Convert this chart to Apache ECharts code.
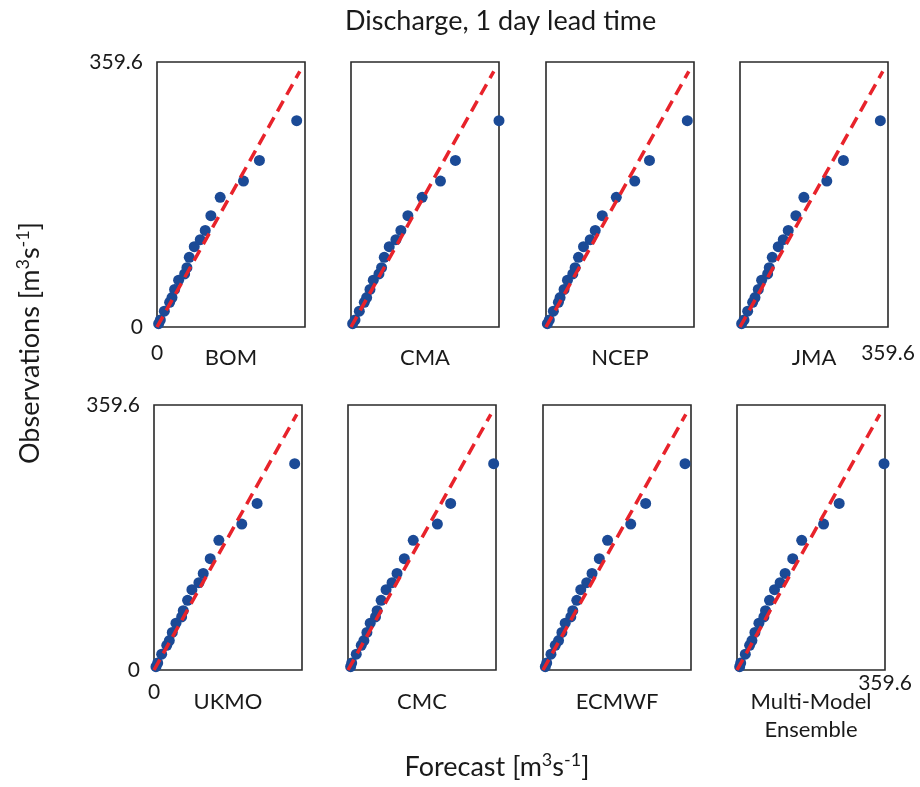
<!DOCTYPE html>
<html>
<head>
<meta charset="utf-8">
<script src="https://cdn.jsdelivr.net/npm/echarts@6/dist/echarts.min.js"></script>
<style>html,body{margin:0;padding:0;background:#fff}#chart{width:920px;height:787px}</style>
</head>
<body>
<div id="chart"></div>
<script>
// ---------- data ----------
const models = ['BOM', 'CMA', 'NCEP', 'JMA', 'UKMO', 'CMC', 'ECMWF', 'Multi-Model\nEnsemble'];
const axisMin = 0;
const axisMax = 359.6;
const tickLabels = ['0', '359.6'];
const oneToOneEnd = 347;
// observed quantiles (same for every panel)
const obs = [4.5, 9.5, 21.5, 33.5, 40, 51, 63.5, 72, 80.5, 94.5, 109, 118.5, 131, 151, 176, 198, 226, 280];
// forecast quantiles per model
const fcBOM   = [4.0, 8.1, 17.8, 30.7, 36.4, 42.8, 52.5, 67.1, 72.7, 78.4, 90.5, 105.1, 117.2, 130.9, 153.5, 210.1, 248.9, 339.4];
const fcCMA   = [4.0, 9.7, 20.2, 32.3, 38.0, 46.1, 54.1, 67.9, 74.3, 80.8, 92.9, 109.1, 121.2, 138.2, 172.9, 217.4, 253.7, 359.6];
const fcNCEP  = [3.3, 8.1, 17.9, 30.1, 34.2, 43.9, 52.1, 65.1, 70.8, 78.9, 91.1, 107.4, 119.6, 136.7, 170.8, 215.6, 251.4, 343.3];
const fcJMA   = [4.0, 9.7, 18.6, 30.7, 36.4, 44.4, 52.5, 67.1, 71.1, 78.4, 92.9, 105.1, 117.2, 135.8, 155.2, 210.9, 251.3, 341.0];
const fcUKMO  = [4.8, 9.0, 18.6, 31.0, 37.2, 44.4, 53.3, 67.1, 71.1, 81.6, 92.1, 109.1, 119.6, 136.6, 157.6, 213.3, 250.5, 341.8];
const fcCMC   = [6.4, 9.0, 20.1, 32.2, 38.6, 45.9, 53.9, 66.8, 70.8, 80.5, 92.5, 107.0, 119.1, 136.8, 158.5, 217.2, 249.4, 353.9];
const fcECMWF = [5.6, 9.0, 19.3, 29.8, 37.8, 45.9, 53.9, 67.6, 72.4, 82.1, 91.7, 106.2, 119.1, 136.8, 156.9, 213.2, 249.4, 345.1];
const fcMME   = [6.5, 9.0, 20.2, 30.6, 36.3, 43.5, 53.2, 65.3, 69.3, 79.0, 91.1, 104.8, 116.9, 135.4, 157.2, 210.4, 248.3, 357.2];
const forecasts = [fcBOM, fcCMA, fcNCEP, fcJMA, fcUKMO, fcCMC, fcECMWF, fcMME];

// ---------- layout ----------
const FONT = 'Lato';
const TXT = '#1a1a1a';
const rowTop = [62, 405];
const colLeft = [[157, 351, 546, 740], [154, 348, 543, 737]];
const W = 148, H = 265;

const chart = echarts.init(document.getElementById('chart'), null, {renderer: 'canvas'});
const grid = [], xAxis = [], yAxis = [], series = [];

models.forEach((name, i) => {
  const r = Math.floor(i / 4), c = i % 4;
  grid.push({
    left: colLeft[r][c], top: rowTop[r], width: W, height: H,
    show: true, borderColor: '#2a2a2a', borderWidth: 1.6, backgroundColor: 'transparent',
    containLabel: false
  });
  const showX0 = c === 0, showXMax = c === 3;
  xAxis.push({
    type: 'value', gridIndex: i, min: axisMin, max: axisMax, interval: axisMax,
    axisLine: {show: false}, axisTick: {show: false}, splitLine: {show: false},
    axisLabel: {
      show: showX0 || showXMax, showMinLabel: true, showMaxLabel: true,
      margin: (r === 1 && c === 3) ? 3 : (r === 0 ? 16 : 12),
      fontFamily: FONT, fontSize: 21, color: TXT,
      formatter: v => (v === axisMin && showX0) ? tickLabels[0] : ((v === axisMax && showXMax) ? tickLabels[1] : '')
    },
    name: name, nameLocation: 'middle', nameGap: r === 0 ? 17 : 18, nameMoveOverlap: false,
    nameTextStyle: {fontFamily: FONT, fontSize: 22, color: TXT, verticalAlign: 'top', lineHeight: 28}
  });
  yAxis.push({
    type: 'value', gridIndex: i, min: axisMin, max: axisMax, interval: axisMax,
    axisLine: {show: false}, axisTick: {show: false}, splitLine: {show: false},
    axisLabel: {
      show: c === 0, showMinLabel: true, showMaxLabel: true, margin: 14,
      fontFamily: FONT, fontSize: 21, color: TXT,
      formatter: v => v === axisMin ? tickLabels[0] : tickLabels[1]
    }
  });
  series.push({
    type: 'scatter', xAxisIndex: i, yAxisIndex: i, clip: false,
    symbol: 'circle', symbolSize: 11,
    itemStyle: {color: '#1b4a96', opacity: 1},
    data: forecasts[i].map((f, k) => [f, obs[k]]), z: 2
  });
  series.push({
    type: 'line', xAxisIndex: i, yAxisIndex: i, showSymbol: false, symbol: 'none',
    lineStyle: {color: '#e8232b', width: 3.5, type: [12, 7]},
    data: [[0, 0], [oneToOneEnd, oneToOneEnd]], z: 3, silent: true
  });
});

const supRich = (size) => ({
  a: {fontFamily: FONT, fontSize: size, fill: TXT, lineHeight: size + 4},
  s: {fontFamily: FONT, fontSize: Math.round(size * 0.68), fill: TXT, verticalAlign: 'top', lineHeight: Math.round(size * 0.68) + 2}
});

chart.setOption({
  animation: false,
  backgroundColor: '#fff',
  grid, xAxis, yAxis, series,
  graphic: [
    {type: 'text', left: 345, top: 8, style: {text: 'Discharge, 1 day lead time', fontFamily: FONT, fontSize: 27, fill: TXT}},
    {type: 'text', x: 497, y: 767, style: {text: '{a|Forecast [m}{s|3}{a|s}{s|-1}{a|]}', rich: supRich(27), align: 'center', verticalAlign: 'middle'}},
    {type: 'text', x: 30, y: 343, rotation: Math.PI / 2, style: {text: '{a|Observations [m}{s|3}{a|s}{s|-1}{a|]}', rich: supRich(27), align: 'center', verticalAlign: 'middle'}}
  ]
});
</script>
</body>
</html>
